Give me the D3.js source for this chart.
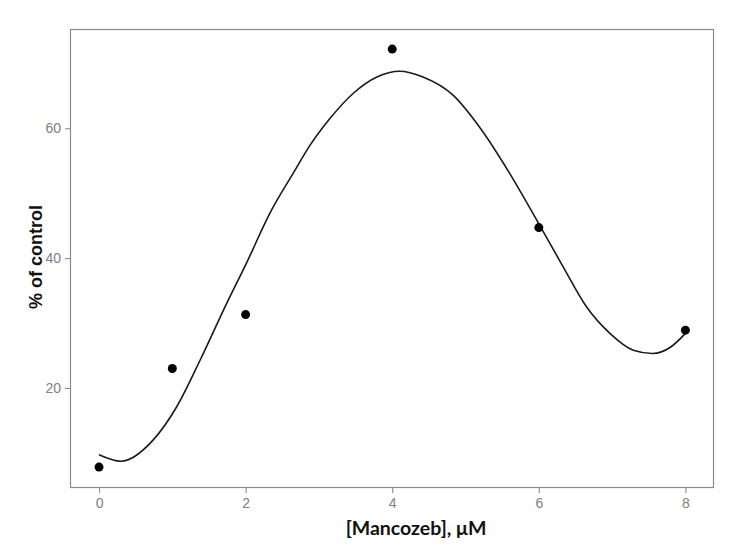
<!DOCTYPE html>
<html>
<head>
<meta charset="utf-8">
<script src="https://cdn.jsdelivr.net/npm/d3@7"></script>
<style>
  body { margin: 0; background: #fff; }
  svg { display: block; }
</style>
</head>
<body>
<svg id="chart"></svg>
<script>
// observed points
const doses = [0, 1, 2, 4, 6, 8];
const pctControl = [7.8, 23.0, 31.3, 72.2, 44.7, 28.9];

// smoothed fit
const fitX = [0, 0.3, 0.74, 1.06, 1.38, 1.74, 2.01, 2.33, 2.65, 2.88, 3.15, 3.47, 3.79, 4.1,
  4.42, 4.83, 5.19, 5.6, 5.97, 6.33, 6.65, 6.97, 7.29, 7.55, 7.8, 8.0];
const fitY = [9.7, 8.7, 12.0, 17.1, 24.3, 33.0, 39.2, 46.9, 53.1, 57.4, 61.5, 65.4, 67.9, 68.8,
  67.9, 65.1, 60.2, 53.1, 45.9, 38.7, 32.5, 28.4, 25.8, 25.3, 26.3, 28.4];

const xTicks = [0, 2, 4, 6, 8];
const yTicks = [20, 40, 60];

const width = 736, height = 557;
const marginLeft = 70, marginRight = 22, marginTop = 29, marginBottom = 69;

const svg = d3.select('#chart')
  .attr('width', width)
  .attr('height', height)
  .attr('viewBox', [0, 0, width, height]);

const x = d3.scaleLinear()
  .domain([-0.396, 8.39])
  .range([marginLeft, width - marginRight]);

const y = d3.scaleLinear()
  .domain([4.58, 75.3])
  .range([height - marginBottom, marginTop]);

// panel border
svg.append('rect')
  .attr('x', marginLeft + 0.5)
  .attr('y', marginTop + 0.5)
  .attr('width', width - marginLeft - marginRight - 1)
  .attr('height', height - marginTop - marginBottom - 1)
  .attr('fill', 'none')
  .attr('stroke', '#8a8a8a')
  .attr('stroke-width', 1.2);

const xAxis = svg.append('g')
  .attr('transform', `translate(0,${height - marginBottom})`)
  .call(d3.axisBottom(x).tickValues(xTicks).tickSize(5).tickPadding(5));

const yAxis = svg.append('g')
  .attr('transform', `translate(${marginLeft},0)`)
  .call(d3.axisLeft(y).tickValues(yTicks).tickSize(5).tickPadding(4));

[xAxis, yAxis].forEach((g) => {
  g.attr('font-size', null).attr('font-family', null);
  g.select('.domain').remove();
  g.selectAll('line').attr('stroke', '#8a8a8a').attr('stroke-width', 1.1);
  g.selectAll('text')
    .attr('fill', '#7d8085')
    .style('font-family', '"Liberation Sans", Arial, sans-serif')
    .style('font-size', '14px');
});

// smooth line
const line = d3.line()
  .x((d, i) => x(fitX[i]))
  .y((d, i) => y(fitY[i]))
  .curve(d3.curveMonotoneX);

svg.append('path')
  .datum(fitX)
  .attr('d', line)
  .attr('fill', 'none')
  .attr('stroke', '#1a1a1a')
  .attr('stroke-width', 1.6);

// points
svg.append('g')
  .selectAll('circle')
  .data(doses)
  .join('circle')
  .attr('cx', (d) => x(d))
  .attr('cy', (d, i) => y(pctControl[i]))
  .attr('r', 4.5)
  .attr('fill', '#000');

// axis titles
svg.append('text')
  .attr('x', 416)
  .attr('y', 535)
  .attr('text-anchor', 'middle')
  .style('font-family', 'Lato, "Open Sans", sans-serif')
  .style('font-weight', 'bold')
  .style('font-size', '19.5px')
  .attr('fill', '#111')
  .text('[Mancozeb], μM');

svg.append('text')
  .attr('transform', 'translate(42,257) rotate(-90)')
  .attr('text-anchor', 'middle')
  .style('font-family', '"Liberation Sans", Arial, sans-serif')
  .style('font-weight', 'bold')
  .style('font-size', '18px')
  .attr('fill', '#111')
  .text('% of control');
</script>
</body>
</html>
